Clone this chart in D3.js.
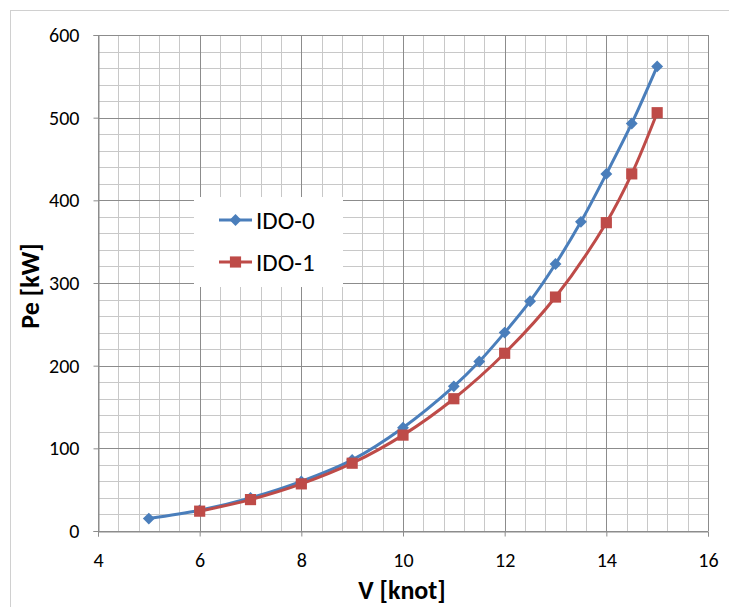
<!DOCTYPE html>
<html><head><meta charset="utf-8">
<script src="https://cdn.jsdelivr.net/npm/d3@7"></script>
<style>body{margin:0;background:#fff}svg{display:block}</style>
</head><body><svg id="c" width="729" height="607"></svg>
<script>
const xIDO0 = [5,6,7,8,9,10,11,11.5,12,12.5,13,13.5,14,14.5,15];
const yIDO0 = [15,25,40,60,86,125,175,205,240,278,323,374,432,493,562];
const xIDO1 = [6,7,8,9,10,11,12,13,14,14.5,15];
const yIDO1 = [24,38,57,82,116,160,215,283,373,432,506];
const xTicks = [4,6,8,10,12,14,16];
const yTicks = [0,100,200,300,400,500,600];
const seriesNames = ["IDO-0","IDO-1"];
const colors = ["#4a7ebb","#be4b48"];

const font = "Carlito, Calibri, 'Liberation Sans Narrow', Lato, 'Open Sans', sans-serif";
const svg = d3.select("#c");
const m = {l:98, r:708, t:35, b:531};
const x = d3.scaleLinear().domain([4,16]).range([m.l,m.r]);
const y = d3.scaleLinear().domain([0,600]).range([m.b,m.t]);

svg.append("rect").attr("x",10.5).attr("y",10.5).attr("width",730).attr("height",610)
  .attr("fill","none").attr("stroke","#d0d0d0");

const g = svg.append("g");
const xMinor = d3.range(4,16.001,0.4);
const yMinor = d3.range(0,600.001,20);
g.selectAll(".vx").data(xMinor).join("line")
  .attr("x1",d=>Math.round(x(d))+0.5).attr("x2",d=>Math.round(x(d))+0.5)
  .attr("y1",m.t).attr("y2",m.b).attr("stroke","#c8c8c8").attr("stroke-width",1);
g.selectAll(".hy").data(yMinor).join("line")
  .attr("y1",d=>Math.round(y(d))+0.5).attr("y2",d=>Math.round(y(d))+0.5)
  .attr("x1",m.l).attr("x2",m.r).attr("stroke","#c8c8c8").attr("stroke-width",1);
g.selectAll(".mx").data(xTicks).join("line")
  .attr("x1",d=>Math.round(x(d))+0.5).attr("x2",d=>Math.round(x(d))+0.5)
  .attr("y1",m.t).attr("y2",m.b).attr("stroke","#8c8c8c").attr("stroke-width",1);
g.selectAll(".my").data(yTicks).join("line")
  .attr("y1",d=>Math.round(y(d))+0.5).attr("y2",d=>Math.round(y(d))+0.5)
  .attr("x1",m.l).attr("x2",m.r).attr("stroke","#8c8c8c").attr("stroke-width",1);

const xAxis = d3.axisBottom(x).tickValues(xTicks).tickSize(5).tickPadding(16).tickFormat(d3.format("d"));
const yAxis = d3.axisLeft(y).tickValues(yTicks).tickSize(5).tickPadding(14).tickFormat(d3.format("d"));
const gx = svg.append("g").attr("transform",`translate(0,${Math.round(y(0))+0.5})`).call(xAxis);
const gy = svg.append("g").attr("transform",`translate(${Math.round(x(4))+0.5},0)`).call(yAxis);
[gx,gy].forEach(a=>{
  a.select(".domain").attr("stroke","#8c8c8c");
  a.selectAll(".tick line").attr("stroke","#8c8c8c");
  a.selectAll("text").attr("font-family",font).attr("font-size",20).attr("fill","#000");
});

const line = d3.line().x(d=>x(d[0])).y(d=>y(d[1])).curve(d3.curveCatmullRom.alpha(0.5));
const d0 = xIDO0.map((v,i)=>[v,yIDO0[i]]);
const d1 = xIDO1.map((v,i)=>[v,yIDO1[i]]);
svg.append("path").datum(d0).attr("d",line).attr("fill","none").attr("stroke",colors[0]).attr("stroke-width",3);
svg.append("path").datum(d1).attr("d",line).attr("fill","none").attr("stroke",colors[1]).attr("stroke-width",3);

const diamond = d3.symbol().type(d3.symbolDiamond2).size(90);
const square = d3.symbol().type(d3.symbolSquare).size(125);
svg.selectAll(".m0").data(d0).join("path").attr("d",diamond)
  .attr("transform",d=>`translate(${x(d[0])},${y(d[1])})`).attr("fill",colors[0]);
svg.selectAll(".m1").data(d1).join("path").attr("d",square)
  .attr("transform",d=>`translate(${x(d[0])},${y(d[1])})`).attr("fill",colors[1]);

const lg = svg.append("g");
lg.append("rect").attr("x",194).attr("y",197).attr("width",149).attr("height",90).attr("fill","#fff");
const ly = [220,262];
seriesNames.forEach((n,i)=>{
  lg.append("line").attr("x1",219).attr("x2",252).attr("y1",ly[i]).attr("y2",ly[i])
    .attr("stroke",colors[i]).attr("stroke-width",3);
  lg.append("path").attr("d",i===0?diamond:square)
    .attr("transform",`translate(235.5,${ly[i]})`).attr("fill",colors[i]);
  lg.append("text").attr("x",256).attr("y",ly[i]).attr("dy","0.36em")
    .attr("font-family",font).attr("font-size",25).text(n);
});

svg.append("text").attr("x",402).attr("y",599).attr("text-anchor","middle")
  .attr("font-family",font).attr("font-weight","bold").attr("font-size",26).text("V [knot]");
svg.append("text").attr("transform","translate(39,286) rotate(-90)").attr("text-anchor","middle")
  .attr("font-family",font).attr("font-weight","bold").attr("font-size",26).text("Pe [kW]");
</script></body></html>
